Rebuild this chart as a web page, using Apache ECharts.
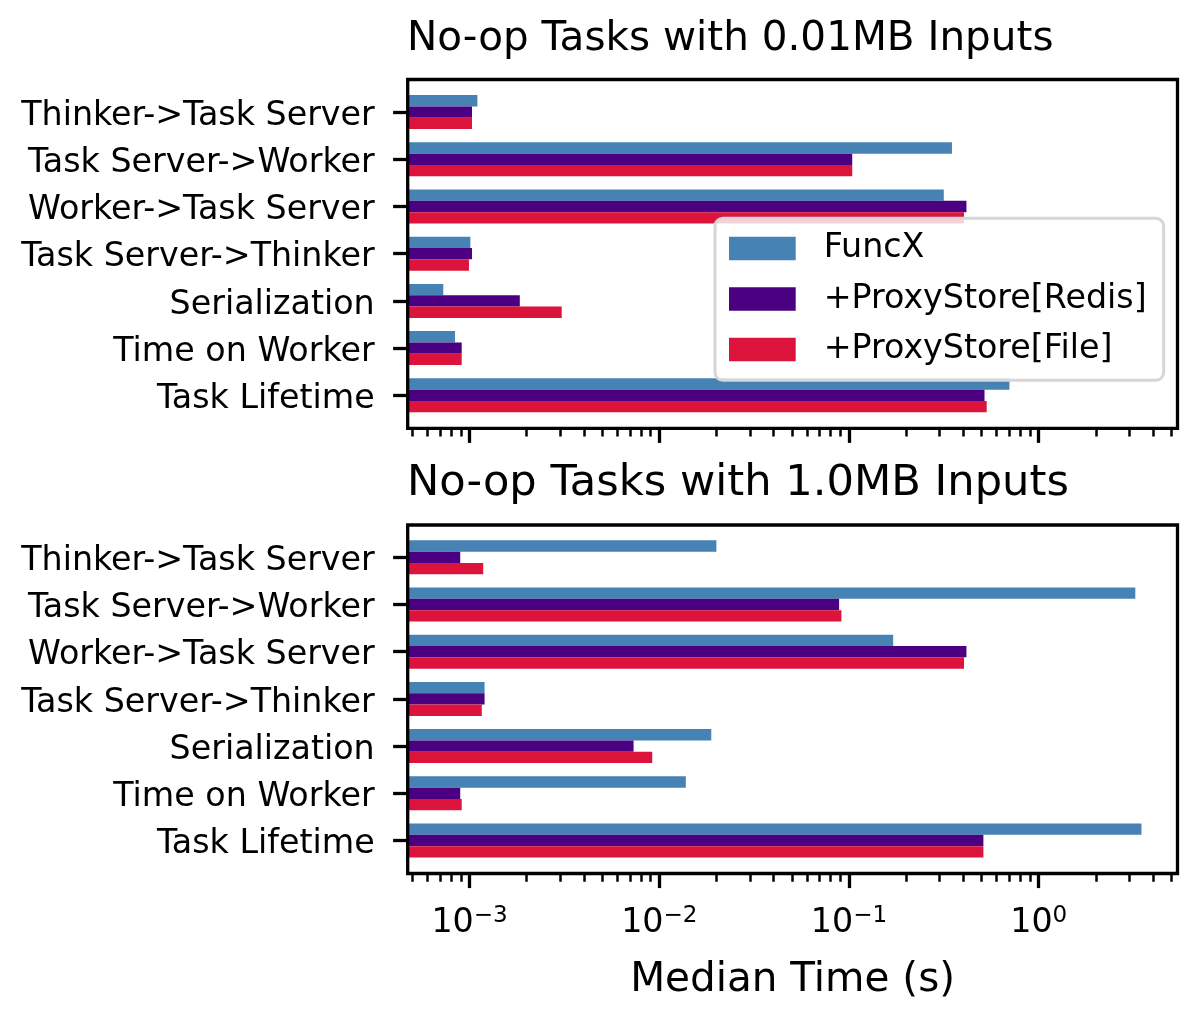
<!DOCTYPE html>
<html>
<head>
<meta charset="utf-8">
<title>No-op Tasks</title>
<script src="https://cdn.jsdelivr.net/npm/echarts@6/dist/echarts.min.js"></script>
<style>
    html, body { margin: 0; padding: 0; background: #fff; }
    #chart { width: 1196px; height: 1021px; }
</style>
</head>
<body>
<div id="chart"></div>
<script>
// categories, top to bottom
var categories = ['Thinker->Task Server', 'Task Server->Worker', 'Worker->Task Server',
    'Task Server->Thinker', 'Serialization', 'Time on Worker', 'Task Lifetime'];
var seriesNames = ['FuncX', '+ProxyStore[Redis]', '+ProxyStore[File]'];

// 0.01MB inputs (seconds)
var smallFuncx = [0.00110, 0.349, 0.316, 0.00101, 0.000727, 0.000838, 0.701];
var smallRedis = [0.00103, 0.104, 0.416, 0.00103, 0.00184, 0.000909, 0.518];
var smallFile  = [0.00103, 0.104, 0.404, 0.000993, 0.00306, 0.000909, 0.532];

// 1.0MB inputs (seconds)
var largeFuncx = [0.0200, 3.23, 0.171, 0.00120, 0.0188, 0.0138, 3.48];
var largeRedis = [0.000893, 0.0887, 0.416, 0.00120, 0.00732, 0.000893, 0.511];
var largeFile  = [0.00118, 0.0912, 0.404, 0.00116, 0.00918, 0.000909, 0.511];

// x axis ticks
var majorTicks = [0.001, 0.01, 0.1, 1];
var minorMult = [2, 3, 4, 5, 6, 7, 8, 9];
var minorDecades = [0.0001, 0.001, 0.01, 0.1, 1];

var X_MIN = 0.000472, X_MAX = 5.39;
var colors = ['#4682B4', '#4B0082', '#DC143C'];
var FONT = 'DejaVu Sans';
var SMALL = 33.3, BIG = 40.5;

var minorTicks = [];
minorDecades.forEach(function (d) {
    minorMult.forEach(function (m) {
        var v = +(d * m).toPrecision(3);
        if (v >= X_MIN && v <= X_MAX) { minorTicks.push(v); }
    });
});

// frame / bar grids
var frameLeft = 407.7, frameWidth = 769.8;
var frames = [{ top: 79.5, height: 348.8 }, { top: 525, height: 348.5 }];
var barTops = [88.5, 533.7], barHeight = 330.4;

var chart = echarts.init(document.getElementById('chart'));

// 10^n label
var expLabel = function (v) {
    var e = Math.round(Math.log10(v));
    return '{b|10}{s|' + (e < 0 ? '\u2212' + (-e) : e) + '}';
};

var frameAxes = function (gridIndex, withLabels) {
    var major = {
        gridIndex: gridIndex, type: 'log', logBase: 10, min: X_MIN, max: X_MAX, position: 'bottom',
        axisLine: { show: false },
        axisTick: { show: true, customValues: majorTicks, length: 14.6, lineStyle: { color: '#000', width: 3.3 } },
        axisLabel: { show: false },
        splitLine: { show: false }
    };
    var minor = {
        gridIndex: gridIndex, type: 'log', logBase: 10, min: X_MIN, max: X_MAX, position: 'bottom',
        axisLine: { show: false },
        axisTick: { show: true, customValues: minorTicks, length: 8.3, lineStyle: { color: '#000', width: 2.5 } },
        axisLabel: { show: false },
        splitLine: { show: false }
    };
    if (withLabels) {
        major.axisLabel = {
            show: true, customValues: majorTicks, margin: 31, color: '#000',
            formatter: expLabel,
            rich: {
                b: { fontSize: SMALL, lineHeight: 38, fontFamily: FONT, color: '#000' },
                s: { fontSize: 23, lineHeight: 23, verticalAlign: 'top', fontFamily: FONT, color: '#000' }
            }
        };
        major.name = 'Median Time (s)';
        major.nameLocation = 'middle';
        major.nameGap = 86.5;
        major.nameTextStyle = { fontSize: BIG, lineHeight: 40, fontFamily: FONT, color: '#000' };
    }
    return [major, minor];
};

var barXAxis = function (gridIndex) {
    return { gridIndex: gridIndex, type: 'log', logBase: 10, min: X_MIN, max: X_MAX, startValue: X_MIN, show: false };
};

var catYAxis = function (gridIndex) {
    return {
        gridIndex: gridIndex, type: 'category', data: categories, inverse: true,
        axisLine: { show: false },
        axisTick: { show: true, alignWithLabel: true, length: 14.6, lineStyle: { color: '#000', width: 3.3 } },
        axisLabel: { fontSize: SMALL, fontFamily: FONT, color: '#000', margin: 33,
                     verticalAlign: 'top', lineHeight: 8 },
        splitLine: { show: false }
    };
};

var makeBars = function (xIdx, yIdx, lists) {
    return lists.map(function (d, i) {
        return {
            name: seriesNames[i], type: 'bar', xAxisIndex: xIdx, yAxisIndex: yIdx,
            data: d, barWidth: '24%', barGap: '0%',
            itemStyle: { color: colors[i] }
        };
    });
};

var option = {
    animation: false,
    backgroundColor: '#fff',
    textStyle: { fontFamily: FONT },
    title: [
        { text: 'No-op Tasks with 0.01MB Inputs', left: 407, top: 19, padding: 0,
          textStyle: { fontSize: BIG, lineHeight: 40, fontWeight: 'normal', fontFamily: FONT, color: '#000' } },
        { text: 'No-op Tasks with 1.0MB Inputs', left: 407, top: 464, padding: 0,
          textStyle: { fontSize: 43.2, lineHeight: 40, fontWeight: 'normal', fontFamily: FONT, color: '#000' } }
    ],
    legend: {
        data: seriesNames, orient: 'vertical', left: 715, top: 218.3,
        icon: 'rect', itemWidth: 66.7, itemHeight: 23.3, itemGap: 17.5,
        padding: [13.7, 17, 14.3, 14],
        backgroundColor: 'rgba(255,255,255,0.8)', borderColor: '#d6d6d6', borderWidth: 3, borderRadius: 8,
        textStyle: { fontSize: SMALL, fontFamily: FONT, color: '#000', padding: [0, 0, 0, 23] }
    },
    grid: [
        { left: frameLeft, width: frameWidth, top: frames[0].top, height: frames[0].height,
          show: true, borderColor: '#000', borderWidth: 3.3, backgroundColor: 'transparent', z: 10 },
        { left: frameLeft, width: frameWidth, top: barTops[0], height: barHeight },
        { left: frameLeft, width: frameWidth, top: frames[1].top, height: frames[1].height,
          show: true, borderColor: '#000', borderWidth: 3.3, backgroundColor: 'transparent', z: 10 },
        { left: frameLeft, width: frameWidth, top: barTops[1], height: barHeight }
    ],
    xAxis: [].concat(frameAxes(0, false), [barXAxis(1)], frameAxes(2, true), [barXAxis(3)]),
    yAxis: [
        { gridIndex: 0, type: 'value', show: false },
        catYAxis(1),
        { gridIndex: 2, type: 'value', show: false },
        catYAxis(3)
    ],
    series: [].concat(
        makeBars(2, 1, [smallFuncx, smallRedis, smallFile]),
        makeBars(5, 3, [largeFuncx, largeRedis, largeFile])
    )
};

chart.setOption(option);
</script>
</body>
</html>
